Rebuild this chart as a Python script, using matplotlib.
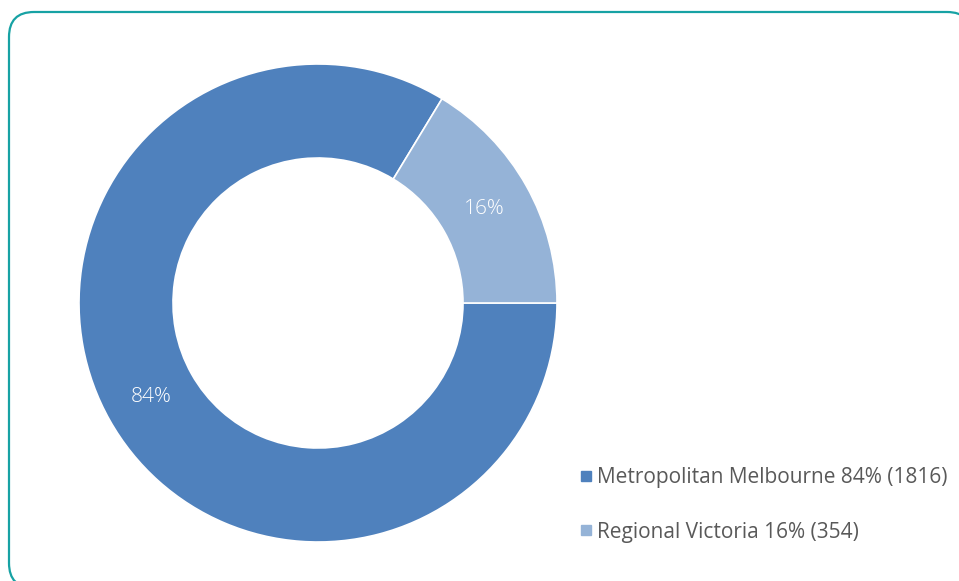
import matplotlib.pyplot as plt
from matplotlib.patches import FancyBboxPatch
from matplotlib.lines import Line2D

# Data
categories = ['Metropolitan Melbourne', 'Regional Victoria']
counts = [1816, 354]
colors = ['#4F81BD', '#95B3D7']

total = sum(counts)
legend_labels = ['%s %d%% (%d)' % (c, round(v * 100 / total), v) for c, v in zip(categories, counts)]

plt.rcParams['font.family'] = ['Open Sans', 'DejaVu Sans']

fig = plt.figure(figsize=(9.59, 5.81), dpi=100)
ax = fig.add_axes([0, 0, 1, 1])
ax.set_xlim(0, 959)
ax.set_ylim(0, 581)
ax.set_aspect('equal')
ax.axis('off')

# rounded frame (runs off the right and bottom edges)
frame = FancyBboxPatch((9, -7), 963, 576, boxstyle='round,pad=0,rounding_size=25',
                       facecolor='white', edgecolor='#17A2A4', linewidth=1.6, zorder=0)
ax.add_patch(frame)

wedges, texts, autotexts = ax.pie(
    counts, colors=colors, startangle=0, counterclock=False,
    center=(318, 278), radius=239,
    wedgeprops=dict(width=94, edgecolor='white', linewidth=1.2),
    autopct='%.0f%%', pctdistance=0.8,
    textprops=dict(color='white', fontsize=15, fontweight='light'))
ax.set_xlim(0, 959)
ax.set_ylim(0, 581)

# legend
handles = [Line2D([], [], marker='s', linestyle='', markersize=7,
                  markerfacecolor=c, markeredgecolor=c) for c in colors]
leg = ax.legend(handles, legend_labels, loc='upper left', bbox_to_anchor=(568 / 959, 1 - 457 / 581),
                frameon=False, fontsize=15, labelspacing=1.6, handletextpad=0.15,
                handlelength=0.75, borderpad=0)
for t in leg.get_texts():
    t.set_color('#595959')

fig.savefig('out.png', dpi=100)
